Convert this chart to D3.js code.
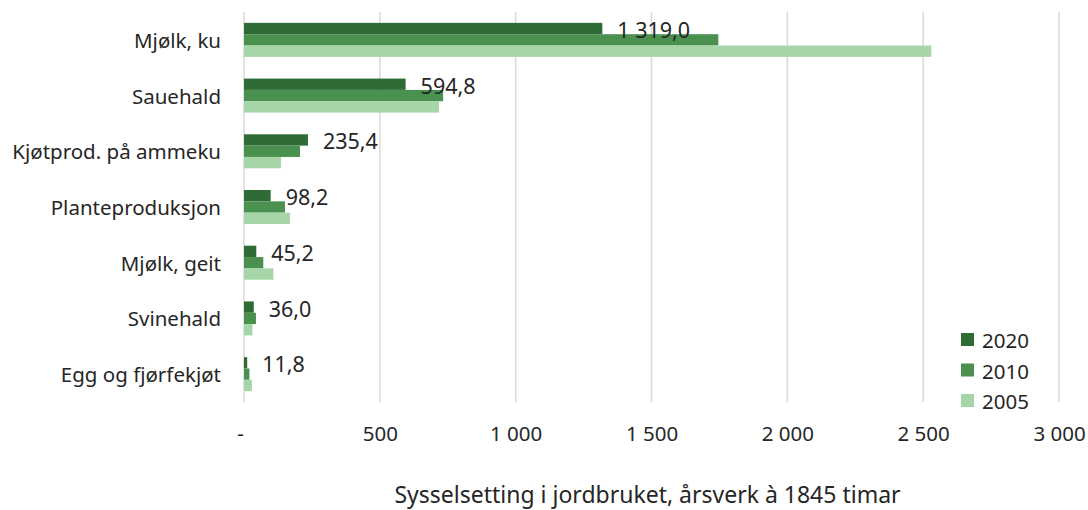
<!DOCTYPE html>
<html lang="nn">
<head>
<meta charset="UTF-8">
<title>Sysselsetting i jordbruket</title>
<script src="https://d3js.org/d3.v7.min.js"></script>
<style>
  body { margin: 0; background: #fff; }
  svg text { font-family: "Noto Sans", sans-serif; fill: #262626; }
</style>
</head>
<body>
<div id="chart"></div>
<script>
// categories top to bottom
const categories = ['Mjølk, ku', 'Sauehald', 'Kjøtprod. på ammeku', 'Planteproduksjon',
                    'Mjølk, geit', 'Svinehald', 'Egg og fjørfekjøt'];
const years = ['2020', '2010', '2005'];

// årsverk per year (2020 values are the labelled ones, the others)
const values2020 = [1319.0, 594.8, 235.4, 98.2, 45.2, 36.0, 11.8];
const values2010 = [1746, 733, 206, 151, 71, 44, 20];
const values2005 = [2530, 718, 136, 169, 108, 31, 29];

const xTicks = [0, 500, 1000, 1500, 2000, 2500, 3000];
const axisTitle = 'Sysselsetting i jordbruket, årsverk à 1845 timar';

const colours = { '2020': '#2e6b35', '2010': '#4a9150', '2005': '#a6d5a8' };

const width = 1088, height = 510;
const margin = { left: 244, right: 29, top: 12, bottom: 108 };

const svg = d3.select('#chart').append('svg')
    .attr('width', width)
    .attr('height', height);

const x = d3.scaleLinear()
    .domain([0, 3000])
    .range([margin.left, width - margin.right]);

const y = d3.scaleBand()
    .domain(categories)
    .range([margin.top, height - margin.bottom])
    .paddingInner(0.39)
    .paddingOuter(0.195);

const ySub = d3.scaleBand()
    .domain(years)
    .range([0, y.bandwidth()]);

const series = { '2020': values2020, '2010': values2010, '2005': values2005 };

// vertical gridlines
svg.append('g')
    .selectAll('line')
    .data(xTicks)
    .join('line')
    .attr('x1', d => x(d)).attr('x2', d => x(d))
    .attr('y1', margin.top).attr('y2', height - margin.bottom)
    .attr('stroke', '#d9d9d9')
    .attr('stroke-width', 1.5);

// x tick labels
const xAxis = d3.axisBottom(x)
    .tickValues(xTicks)
    .tickSize(0)
    .tickPadding(0)
    .tickFormat(d => d === 0 ? '-' : d3.format(',')(d).replace(/,/g, ' '));

svg.append('g')
    .attr('transform', `translate(0, ${height - margin.bottom + 24})`)
    .call(xAxis)
    .call(g => g.select('.domain').remove())
    .call(g => g.selectAll('text')
        .attr('font-size', 20.5)
        .attr('fill', '#262626')
        .attr('font-family', '"Noto Sans", sans-serif')
        .attr('dx', d => d === 0 ? -4 : 0));

// bars
const groups = svg.append('g')
    .selectAll('g')
    .data(categories)
    .join('g')
    .attr('transform', d => `translate(0, ${y(d)})`);

groups.selectAll('rect')
    .data((c, i) => years.map(yr => ({ year: yr, value: series[yr][i] })))
    .join('rect')
    .attr('x', x(0))
    .attr('y', d => ySub(d.year))
    .attr('width', d => x(d.value) - x(0))
    .attr('height', ySub.bandwidth())
    .attr('fill', d => colours[d.year]);

// value labels for 2020
const labelFmt = v => d3.format(',.1f')(v).replace(/,/g, ' ').replace('.', ',');
groups.append('text')
    .attr('x', (c, i) => x(values2020[i]) + 15)
    .attr('y', ySub('2020') + ySub.bandwidth() / 2 + 1)
    .attr('dominant-baseline', 'central')
    .attr('font-size', 21.5)
    .text((c, i) => labelFmt(values2020[i]));

// category labels
svg.append('g')
    .selectAll('text')
    .data(categories)
    .join('text')
    .attr('x', margin.left - 23)
    .attr('y', d => y(d) + y.bandwidth() / 2)
    .attr('text-anchor', 'end')
    .attr('dominant-baseline', 'central')
    .attr('font-size', 20.5)
    .text(d => d);

// legend
const legend = svg.append('g')
    .attr('transform', 'translate(961, 340)')
    .selectAll('g')
    .data(years)
    .join('g')
    .attr('transform', (d, i) => `translate(0, ${i * 30.5})`);

legend.append('rect')
    .attr('x', 0).attr('y', -7)
    .attr('width', 13).attr('height', 13)
    .attr('fill', d => colours[d]);

legend.append('text')
    .attr('x', 21)
    .attr('y', 0)
    .attr('dominant-baseline', 'central')
    .attr('font-size', 20.5)
    .text(d => d);

// axis title
svg.append('text')
    .attr('x', (x(0) + x(3000)) / 2 - 4)
    .attr('y', 503)
    .attr('text-anchor', 'middle')
    .attr('font-size', 23)
    .text(axisTitle);
</script>
</body>
</html>
